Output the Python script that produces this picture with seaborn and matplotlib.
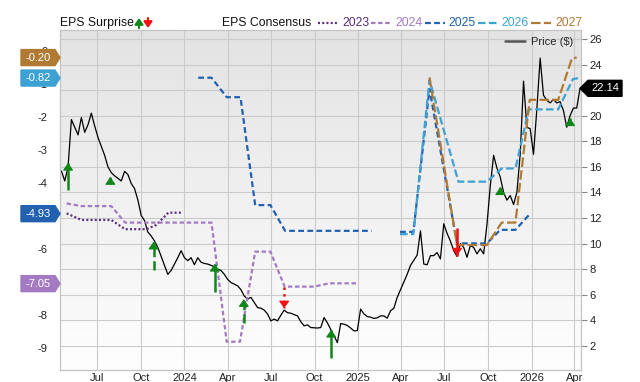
"""EPS surprise / consensus chart with weekly price overlay."""

import numpy as np
import pandas as pd
import matplotlib
matplotlib.use('Agg')
import matplotlib.pyplot as plt
from matplotlib.colors import LinearSegmentedColormap
from matplotlib.patches import Polygon
from matplotlib.lines import Line2D
import seaborn as sns

sns.set_style('white')
plt.rcParams['font.family'] = ['Liberation Sans', 'DejaVu Sans']
plt.rcParams['axes.unicode_minus'] = False

# ── Data ──────────────────────────────────────────────────────────────────────
price_start = '2023-04-17'   # weekly closes
price = [15.67, 14.9, 16.0, 19.7, 19.1, 18.5, 19.86, 18.7, 19.3, 20.2,
         19.2, 18.3, 17.6, 16.9, 16.0, 15.55, 15.3, 15.1, 14.9, 15.65,
         15.4, 14.7, 14.3, 13.4, 12.2, 11.8, 10.9, 10.6, 10.2, 9.7,
         9.0, 8.3, 7.6, 7.9, 8.4, 8.9, 9.45, 8.9, 8.67, 8.9,
         8.35, 8.9, 8.55, 8.45, 8.4, 8.3, 8.2, 8.0, 7.9, 7.6,
         7.2, 6.96, 6.83, 6.7, 6.4, 5.9, 5.66, 5.8, 5.4, 5.0,
         4.95, 4.8, 4.5, 3.96, 4.1, 3.96, 4.4, 4.8, 4.6, 4.56,
         4.45, 4.35, 3.9, 3.57, 3.65, 3.44, 3.42, 3.4, 3.44, 4.22,
         3.8, 3.3, 2.8, 2.26, 3.75, 3.7, 3.6, 3.4, 3.18, 3.2,
         4.88, 4.5, 4.3, 4.25, 4.15, 4.2, 4.35, 4.35, 4.17, 4.75,
         4.95, 5.8, 6.4, 7.0, 7.6, 8.3, 8.7, 9.1, 11.0, 8.4,
         8.35, 9.06, 9.06, 9.3, 8.8, 11.55, 10.8, 10.2, 9.45, 9.0,
         10.0, 9.7, 8.93, 9.85, 9.7, 9.2, 9.6, 9.2, 11.5, 14.5,
         16.9, 15.9, 15.2, 14.0, 13.4, 13.76, 13.06, 14.0, 17.0, 22.7,
         19.1, 18.98, 16.98, 20.5, 24.5, 21.6, 21.2, 21.0, 21.27, 21.0,
         21.1, 20.4, 19.1, 20.0, 20.6, 20.6, 22.14]

eps23_dates = ['2023-04-28', '2023-05-29', '2023-07-31', '2023-08-29', '2023-10-13',
               '2023-11-03', '2023-11-28', '2023-12-29']
eps23 = [-4.92, -5.12, -5.12, -5.40, -5.40, -5.27, -4.90, -4.90]

eps24_dates = ['2023-04-28', '2023-05-29', '2023-07-31', '2023-08-29', '2024-02-27',
               '2024-03-30', '2024-04-27', '2024-05-29', '2024-06-30', '2024-07-30',
               '2024-09-30', '2024-11-01', '2024-12-31']
eps24 = [-4.62, -4.70, -4.70, -5.20, -5.20, -8.81, -8.81, -6.08, -6.08, -7.14,
         -7.14, -7.04, -7.04]

eps25a_dates = ['2024-01-30', '2024-02-27', '2024-03-30', '2024-04-28', '2024-05-29',
                '2024-06-30', '2024-07-31', '2025-01-29']
eps25a = [-0.81, -0.81, -1.40, -1.40, -4.67, -4.67, -5.45, -5.45]
eps25b_dates = ['2025-03-30', '2025-04-27', '2025-05-31', '2025-07-28', '2025-09-29',
                '2025-10-27', '2025-11-28', '2025-12-29']
eps25b = [-5.48, -5.48, -1.15, -5.83, -5.83, -5.42, -5.42, -4.93]

eps26_dates = ['2025-03-30', '2025-04-27', '2025-05-31', '2025-07-31', '2025-09-29',
               '2025-10-30', '2025-11-28', '2025-12-26', '2026-02-26', '2026-03-29',
               '2026-04-11']
eps26 = [-5.55, -5.55, -0.88, -3.96, -3.96, -3.56, -3.56, -1.77, -1.77, -0.85, -0.82]

eps27_dates = ['2025-05-31', '2025-07-28', '2025-09-29', '2025-10-30', '2025-11-28',
               '2025-12-28', '2026-02-26', '2026-03-27', '2026-04-06']
eps27 = [-0.80, -5.88, -5.88, -5.20, -5.20, -1.48, -1.48, -0.22, -0.20]

surp_dates = ['2023-05-01', '2023-07-29', '2023-10-28', '2024-03-05', '2024-05-05',
              '2024-07-29', '2024-11-05', '2025-07-28', '2025-10-27', '2026-03-23']
surp_from = [-4.21, -4.03, -6.64, -7.29, -8.23, -7.14, -9.31, -5.37, -4.33, -2.24]
surp_to = [-3.39, -3.82, -5.78, -6.45, -7.52, -7.80, -8.45, -6.20, -4.13, -2.04]
surp_ls = ['-', '-', '--', '-', '--', ':', '-', '-', '-', '-']

tick_dates = ['2023-07-01', '2023-10-01', '2024-01-01', '2024-04-01', '2024-07-01',
              '2024-10-01', '2025-01-01', '2025-04-01', '2025-07-01', '2025-10-01',
              '2026-01-01', '2026-04-01']
tick_labels = ['Jul', 'Oct', '2024', 'Apr', 'Jul', 'Oct', '2025', 'Apr', 'Jul', 'Oct',
               '2026', 'Apr']

years = ['2023', '2024', '2025', '2026', '2027']
badge_vals = [-0.20, -0.82, -4.93, -7.05]

# ── Style ─────────────────────────────────────────────────────────────────────
C23, C24, C25, C26, C27 = '#5a2c80', '#a47bc2', '#2161b0', '#3ea1d3', '#b07a33'
year_colors = [C23, C24, C25, C26, C27]
year_ls = [(0, (0.9, 1.0)), (0, (2.0, 1.2)), (0, (2.6, 1.5)), (0, (3.4, 1.5)), (0, (4.3, 1.5))]
badge_colors = [C27, C26, C25, C24]
GREEN, RED = '#12861a', '#f01212'
HEAD = '-|>,head_length=0.5,head_width=0.35'
W, H = 640, 382

fig = plt.figure(figsize=(W / 100, H / 100), dpi=100)
rect = [60 / W, 12 / H, 521 / W, 340 / H]

bg = fig.add_axes(rect)
bg.imshow(np.linspace(0, 1, 256).reshape(-1, 1), aspect='auto', extent=[0, 1, 0, 1],
          cmap=LinearSegmentedColormap.from_list('bg', ['#e3e3e3', '#fefefe']))
bg.axis('off')

ax = fig.add_axes(rect)          # price, right scale
ax.patch.set_visible(False)
ax2 = ax.twinx()                 # EPS, left scale

price_df = pd.DataFrame({'date': pd.date_range(price_start, periods=len(price), freq='7D'),
                         'price': price})
sns.lineplot(data=price_df, x='date', y='price', ax=ax, color='black', lw=0.9, estimator=None)

series = [(eps23_dates, eps23, 0), (eps24_dates, eps24, 1), (eps25a_dates, eps25a, 2),
          (eps25b_dates, eps25b, 2), (eps26_dates, eps26, 3), (eps27_dates, eps27, 4)]
for d, v, i in series:
    sns.lineplot(x=pd.to_datetime(d), y=v, ax=ax2, color=year_colors[i], lw=1.6,
                 linestyle=year_ls[i], estimator=None)

# surprise arrows: styled shaft + solid head at the actual value
for d, a, b, ls in zip(surp_dates, surp_from, surp_to, surp_ls):
    c = GREEN if b > a else RED
    t = pd.Timestamp(d)
    ax2.plot([t, t], [a, b], color=c, lw=1.8, linestyle=ls, solid_capstyle='butt')
    ax2.annotate('', xy=(t, b), xytext=(0, -4 if b > a else 4), textcoords='offset points',
                 arrowprops=dict(arrowstyle=HEAD, color=c, lw=0.8, shrinkA=0, shrinkB=0,
                                 mutation_scale=9))

# axes
ax.set_xlim(pd.Timestamp('2023-04-14'), pd.Timestamp('2026-04-15'))
ax.set_ylim(0.12, 26.7)
ax2.set_ylim(-9.667, 0.636)
ax.set_xticks(pd.to_datetime(tick_dates))
ax.set_xticklabels(tick_labels)
ax.yaxis.tick_right()
ax.set_yticks(range(2, 27, 2))
ax2.yaxis.tick_left()
ax2.set_yticks(range(-9, 1))
for a in (ax, ax2):
    a.set_xlabel('')
    a.set_ylabel('')
    for s in a.spines.values():
        s.set_color('#c4c4c4')
        s.set_linewidth(0.8)
ax.grid(True, color='#cbcbcb', lw=0.8)
ax2.grid(False)
ax.tick_params(axis='x', length=0, pad=2, labelsize=8, labelcolor='#222')
ax.tick_params(axis='y', length=4, width=0.8, color='#888', pad=2, labelsize=8, labelcolor='#222')
ax2.tick_params(axis='y', length=0, pad=9, labelsize=8, labelcolor='#222')

# value badges
fig.canvas.draw()
for val, col in zip(badge_vals, badge_colors):
    yc = ax2.transData.transform((0, val))[1]
    pts = np.array([(21, yc - 8), (55, yc - 8), (60, yc), (55, yc + 8), (21, yc + 8)]) / [W, H]
    fig.add_artist(Polygon(pts, closed=True, color=col, transform=fig.transFigure, zorder=5))
    fig.text(38 / W, yc / H, f'{val:.2f}', color='white', fontsize=8, ha='center', va='center', zorder=6)
yc = ax.transData.transform((0, price[-1]))[1]
pts = np.array([(580, yc), (588, yc + 8), (622, yc + 8), (622, yc - 8), (588, yc - 8)]) / [W, H]
fig.add_artist(Polygon(pts, closed=True, color='black', transform=fig.transFigure, zorder=5))
fig.text(605 / W, yc / H, f'{price[-1]:.2f}', color='white', fontsize=8, ha='center', va='center', zorder=6)

# top legend
ty = 1 - 23 / H
fig.text(60 / W, ty, 'EPS Surprise', fontsize=8.8, va='center', color='#111')
ax.annotate('', xy=(139, H - 18), xytext=(139, H - 28), xycoords='figure pixels',
            arrowprops=dict(arrowstyle=HEAD, color=GREEN, lw=1.6, shrinkA=0, shrinkB=0,
                            mutation_scale=7))
ax.annotate('', xy=(148, H - 28), xytext=(148, H - 18), xycoords='figure pixels',
            arrowprops=dict(arrowstyle=HEAD, color=RED, lw=1.6, shrinkA=0, shrinkB=0,
                            mutation_scale=7))
fig.text(222 / W, ty, 'EPS Consensus', fontsize=8.8, va='center', color='#111')
for i, (yr, col) in enumerate(zip(years, year_colors)):
    x0 = 318 + i * 53.3
    fig.add_artist(Line2D([x0 / W, (x0 + 20) / W], [ty, ty], color=col, lw=1.6,
                          linestyle=year_ls[i], transform=fig.transFigure))
    fig.text((x0 + 24) / W, ty, yr, fontsize=8.8, va='center', color=col)

ax2.legend(handles=[Line2D([], [], color='#555555', lw=1.8)], labels=['Price ($)'],
           loc='center left', bbox_to_anchor=(505 / W, 1 - 42 / H), bbox_transform=fig.transFigure,
           frameon=False, fontsize=8, handlelength=1.8, handletextpad=0.5, borderpad=0, borderaxespad=0)

fig.savefig('out.png', dpi=100)
plt.close(fig)
